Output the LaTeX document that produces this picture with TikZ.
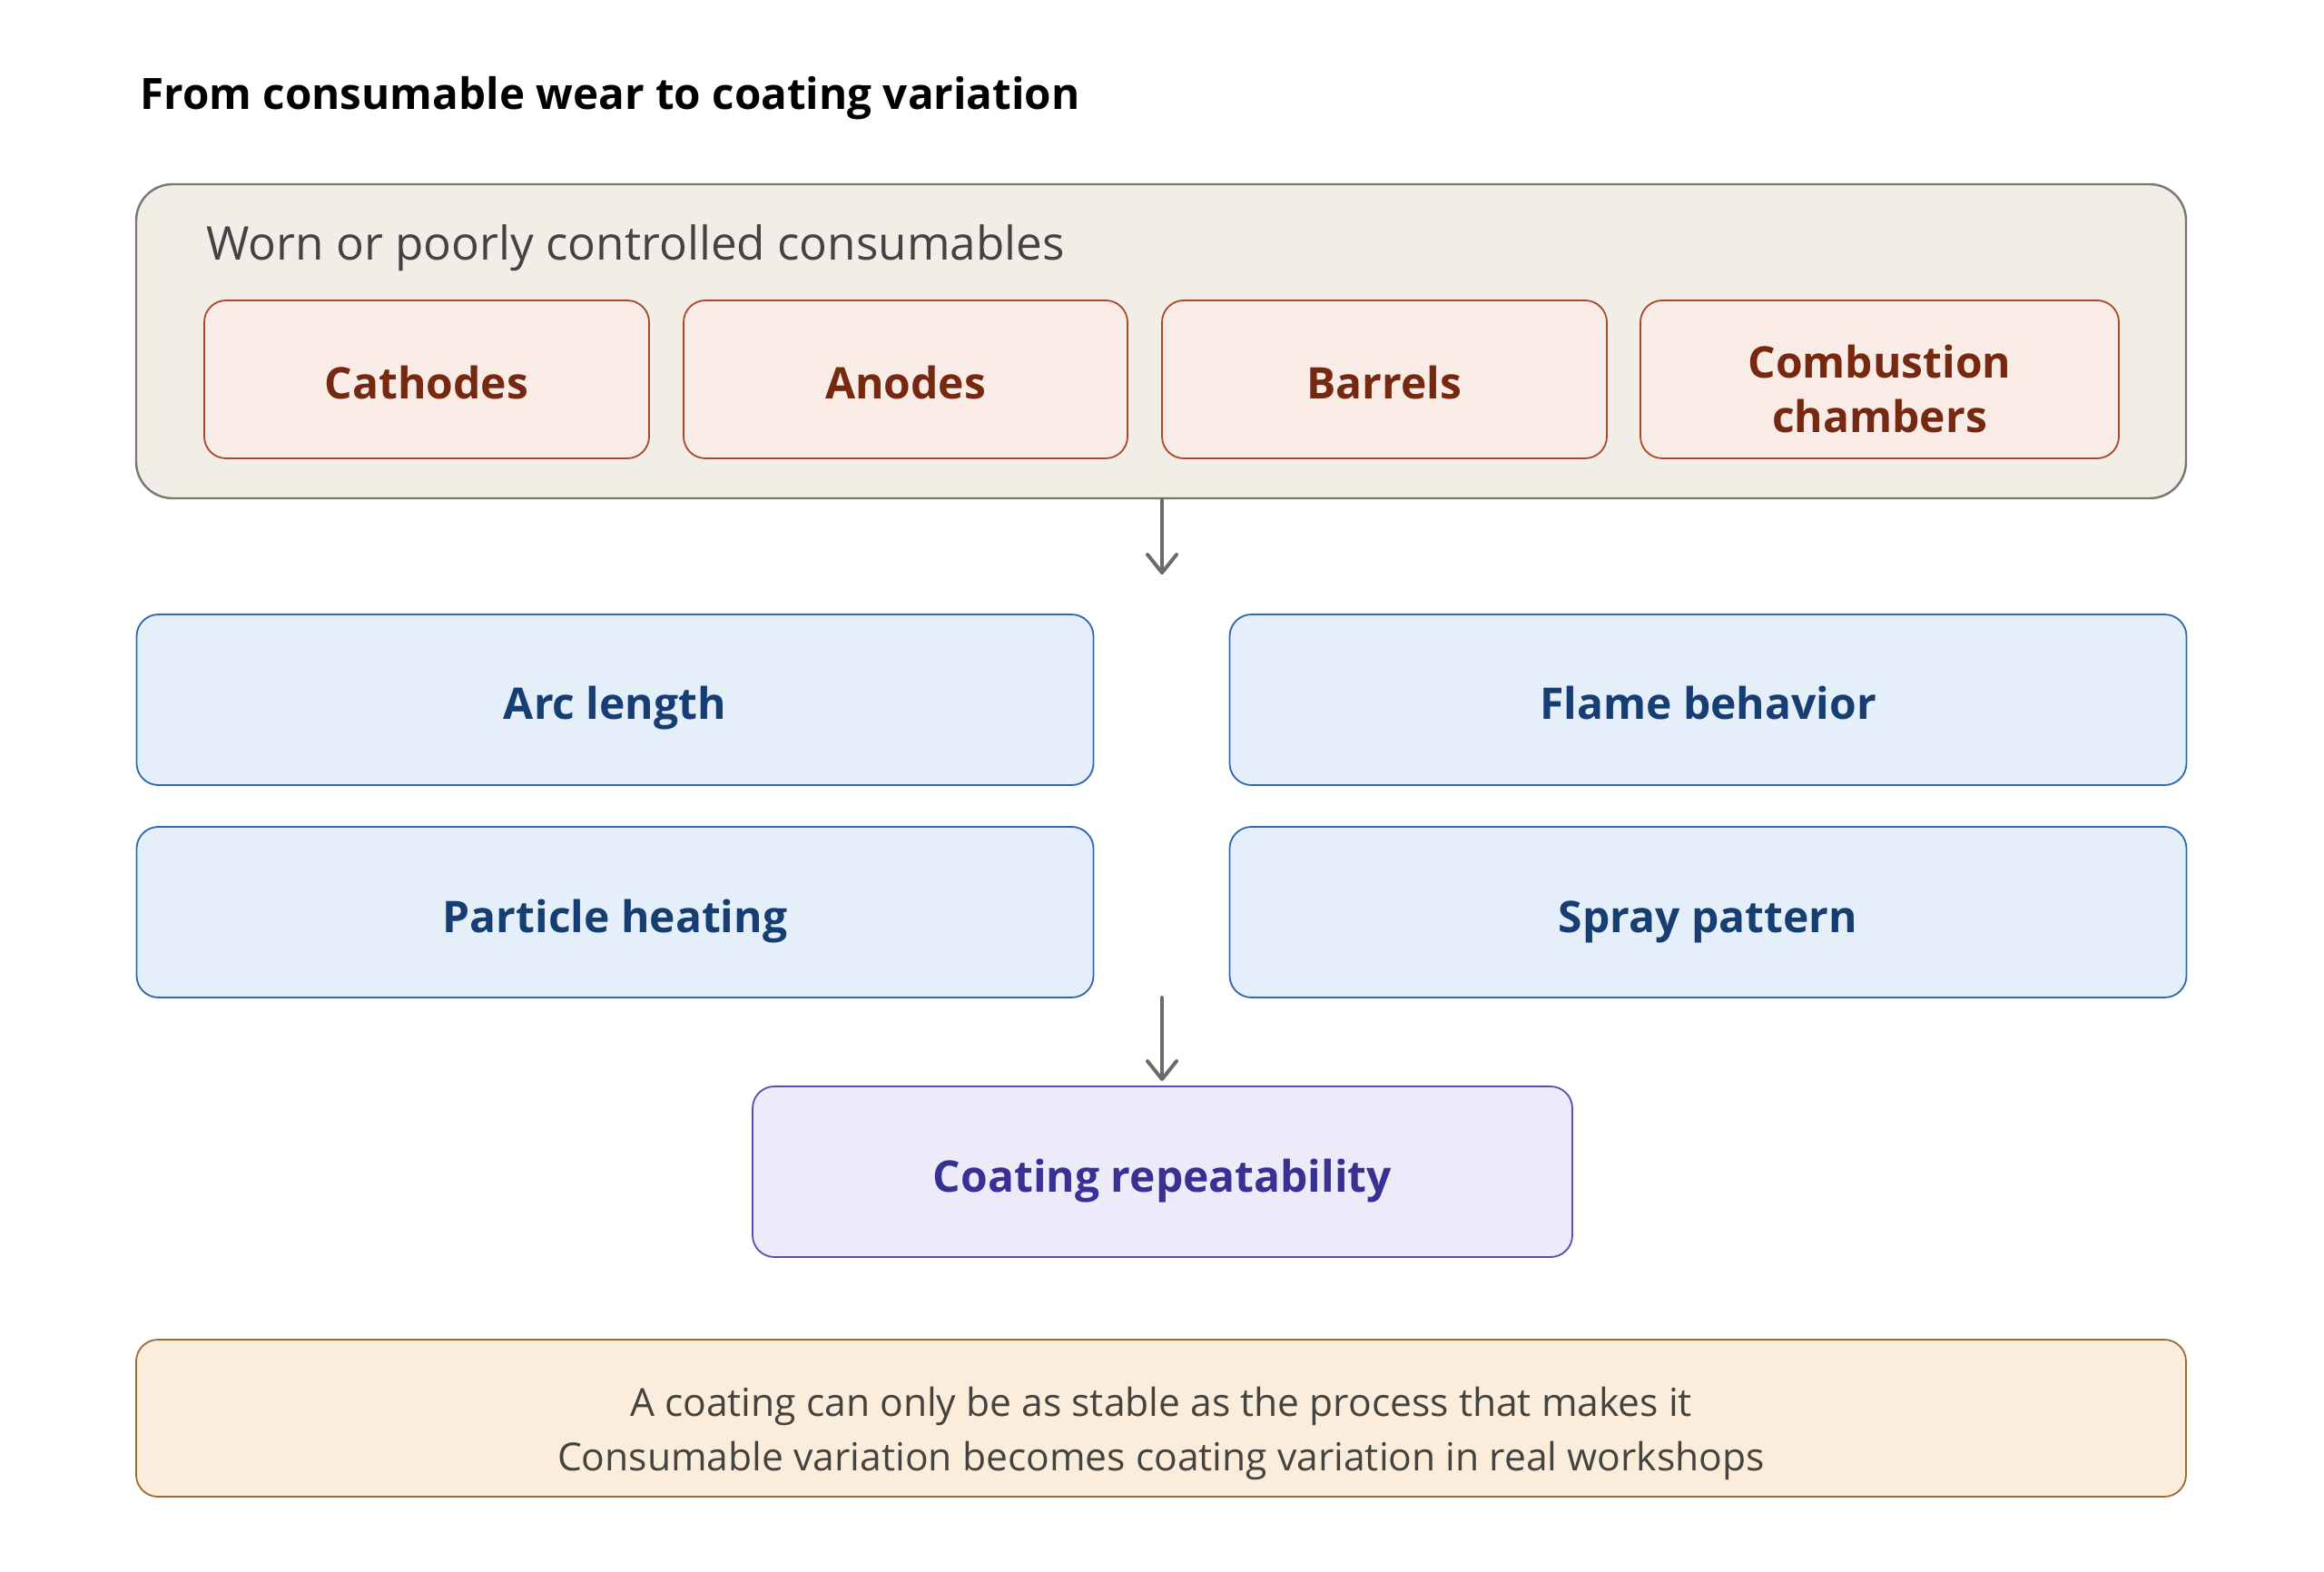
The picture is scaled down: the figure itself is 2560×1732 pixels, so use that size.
\documentclass[tikz,border=0pt]{standalone}
\usepackage{fontspec}
\setmainfont{Open Sans}
\usetikzlibrary{arrows.meta}
\definecolor{outerfill}{HTML}{F1EEE8}
\definecolor{outerline}{HTML}{7A7772}
\definecolor{outertext}{HTML}{45433F}
\definecolor{consfill}{HTML}{F9ECE6}
\definecolor{consline}{HTML}{A9492A}
\definecolor{constext}{HTML}{762910}
\definecolor{bluefill}{HTML}{E5EFFA}
\definecolor{blueline}{HTML}{3068AE}
\definecolor{bluetext}{HTML}{173E73}
\definecolor{purpfill}{HTML}{EDEBFA}
\definecolor{purpline}{HTML}{5A4FB2}
\definecolor{purptext}{HTML}{383193}
\definecolor{notefill}{HTML}{FAEDDB}
\definecolor{noteline}{HTML}{9C6B35}
\definecolor{notetext}{HTML}{454340}
\definecolor{arrowcol}{HTML}{6E6A66}
\tikzset{
  labelfont/.style={font=\fontsize{24}{30}\selectfont\bfseries},
  oneline/.style={text height=22pt, text depth=0pt},
  outerbox/.style={draw=outerline, fill=outerfill, line width=1.2pt, rounded corners=20pt, inner sep=0pt},
  consbox/.style={draw=consline, fill=consfill, line width=0.9pt, rounded corners=12pt, minimum height=87pt, inner sep=0pt,
    text=constext, labelfont},
  bluebox/.style={draw=blueline, fill=bluefill, line width=0.9pt, rounded corners=12pt, minimum width=527pt, minimum height=94pt, inner sep=0pt,
    text=bluetext, labelfont, oneline},
  purpbox/.style={draw=purpline, fill=purpfill, line width=0.9pt, rounded corners=12pt, minimum width=451.5pt, minimum height=94pt, inner sep=0pt,
    text=purptext, labelfont, oneline},
  notebox/.style={draw=noteline, fill=notefill, line width=0.9pt, rounded corners=12pt, minimum width=1129pt, minimum height=86.5pt, inner sep=0pt},
  arr/.style={draw=arrowcol, line width=2pt, line cap=round, -{Straight Barb[length=10pt,width=16pt,line width=2pt,round]}},
}
\begin{document}
\begin{tikzpicture}[x=0.5pt,y=-0.5pt]
\useasboundingbox[fill=white] (0,0) rectangle (2560,1732);
\node[anchor=base west, inner sep=0pt, font=\fontsize{23.8}{28}\selectfont\bfseries, text=black] (title) at (154,121) {From consumable wear to coating variation};
\node[outerbox, minimum width=1129pt, minimum height=173pt] (outer) at (1279,376) {};
\node[anchor=base west, inner sep=0pt, font=\fontsize{25.6}{30}\selectfont, text=outertext] (outerlabel) at (227,287) {Worn or poorly controlled consumables};
\node[consbox, oneline, minimum width=245pt] (cath) at (470,418) {Cathodes};
\node[consbox, oneline, minimum width=244.5pt] (anod) at (997.5,418) {Anodes};
\node[consbox, oneline, minimum width=245pt] (barr) at (1525,418) {Barrels};
\node[consbox, minimum width=263.5pt] (comb) at (2070.5,418) {};
\node[text=constext, labelfont, align=center, inner sep=0pt] (comblabel) at (2070.5,429) {Combustion\\chambers};
\node[bluebox] (arc) at (677.5,771) {Arc length};
\node[bluebox] (flame) at (1881.5,771) {Flame behavior};
\node[bluebox] (heat) at (677.5,1005) {Particle heating};
\node[bluebox] (spray) at (1881.5,1005) {Spray pattern};
\node[purpbox] (coat) at (1280.5,1291) {Coating repeatability};
\node[notebox] (note) at (1279,1562.5) {};
\node[text=notetext, font=\fontsize{21.3}{30}\selectfont, align=center, inner sep=0pt] (notelabel) at (1279,1579) {A coating can only be as stable as the process that makes it\\Consumable variation becomes coating variation in real workshops};
\coordinate (a1) at (1280,633);
\coordinate (a2) at (1280,1099);
\draw[arr] (outer.south -| a1) -- (a1);
\draw[arr, shorten >=2.5pt] (a2) -- (coat.north -| a2);
\end{tikzpicture}
\end{document}
